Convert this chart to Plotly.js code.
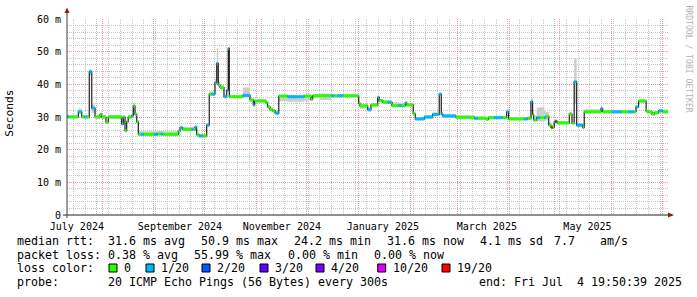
<!DOCTYPE html>
<html><head><meta charset="utf-8">
<script src="https://cdn.plot.ly/plotly-3.0.1.min.js"></script>
<style>html,body{margin:0;padding:0;background:#fff;}#chart{width:697px;height:297px;}</style>
</head><body><div id="chart"></div>
<script>
// ---- data ----
const segStart = ['2024-07-10 00:00','2024-07-12 00:00','2024-07-17 21:00','2024-07-19 22:00','2024-07-21 12:00','2024-07-23 00:00','2024-07-24 10:00','2024-07-25 21:00','2024-07-27 20:00','2024-07-30 19:00',
'2024-07-31 19:00','2024-08-03 09:00','2024-08-04 18:00','2024-08-12 18:00','2024-08-13 17:00','2024-08-14 17:00','2024-08-15 17:00','2024-08-16 16:00','2024-08-18 17:00','2024-08-19 16:00',
'2024-08-20 16:00','2024-08-21 17:00','2024-08-22 16:00','2024-08-24 06:00','2024-08-26 00:00','2024-09-01 04:00','2024-09-03 04:00','2024-09-05 00:00','2024-09-06 04:00','2024-09-15 12:00',
'2024-09-16 12:00','2024-09-18 03:00','2024-09-23 12:00','2024-09-24 12:00','2024-09-25 11:00','2024-09-26 11:00','2024-09-27 20:00','2024-09-30 00:00','2024-10-02 10:00','2024-10-03 23:00',
'2024-10-05 12:00','2024-10-07 09:00','2024-10-08 10:00','2024-10-09 08:00','2024-10-10 09:00','2024-10-12 18:00','2024-10-14 09:00','2024-10-15 07:00','2024-10-15 22:00','2024-10-24 00:00',
'2024-10-28 06:00','2024-10-30 05:00','2024-10-31 01:00','2024-11-06 19:00','2024-11-07 19:00','2024-11-09 04:00','2024-11-10 19:00','2024-11-12 07:00','2024-11-14 10:00','2024-11-19 17:00',
'2024-11-29 15:00','2024-12-03 15:00','2024-12-04 15:00','2024-12-09 00:00','2024-12-15 13:00','2024-12-17 12:00','2024-12-19 13:00','2024-12-22 21:00','2025-01-01 02:00','2025-01-01 20:00',
'2025-01-06 10:00','2025-01-08 10:00','2025-01-12 10:00','2025-01-13 08:00','2025-01-15 10:00','2025-01-18 10:00','2025-01-20 07:00','2025-01-20 22:00','2025-01-25 00:00','2025-01-26 12:00',
'2025-01-28 21:00','2025-01-29 17:00','2025-02-02 14:00','2025-02-03 20:00','2025-02-09 05:00','2025-02-14 05:00','2025-02-18 03:00','2025-02-19 08:00','2025-02-20 05:00','2025-02-28 02:00',
'2025-03-11 00:00','2025-03-13 00:00','2025-03-18 00:00','2025-03-19 12:00','2025-03-22 22:00','2025-03-27 22:00','2025-03-30 08:00','2025-03-31 12:00','2025-04-09 19:00','2025-04-11 19:00',
'2025-04-13 19:00','2025-04-14 19:00','2025-04-15 09:00','2025-04-17 05:00','2025-04-19 00:00','2025-04-21 19:00','2025-04-22 19:00','2025-04-24 10:00','2025-04-25 17:00','2025-04-26 00:00',
'2025-04-26 18:00','2025-04-27 17:00','2025-04-28 07:00','2025-04-29 03:00','2025-04-29 17:00','2025-05-06 16:00','2025-05-08 07:00','2025-05-09 14:00','2025-05-11 02:00','2025-05-14 14:00',
'2025-05-15 14:00','2025-05-25 14:00','2025-05-26 14:00','2025-06-01 00:00','2025-06-07 00:00','2025-06-11 00:00','2025-06-14 00:00','2025-06-15 10:00','2025-06-17 00:00','2025-06-21 12:00',
'2025-06-22 00:00','2025-06-25 00:00','2025-06-26 10:00','2025-06-29 00:00','2025-07-01 08:00'];
const medianRtt = [30.1,30.0,31.6,30.0,30.0,30.0,43.9,32.7,30.0,30.8,
30.0,28.4,30.0,27.9,30.0,25.8,28.6,30.0,30.4,33.4,
30.8,28.5,24.7,24.7,24.7,24.7,24.8,24.8,24.7,25.6,
26.7,26.2,26.2,26.2,26.9,24.6,24.2,24.2,27.5,37.0,
37.0,40.5,46.4,39.8,39.0,36.2,38.2,51.0,36.2,36.6,
35.2,33.7,34.9,34.4,33.1,32.3,31.9,31.2,36.4,36.2,
36.4,35.4,36.5,36.5,36.5,36.5,36.5,36.5,34.2,33.4,
32.3,33.7,36.0,35.0,34.5,34.5,34.5,33.5,33.5,33.5,
34.3,33.7,31.0,29.4,30.0,30.8,37.0,30.9,30.3,29.9,
29.6,29.6,29.3,29.8,29.8,29.8,31.6,29.4,29.4,29.6,
34.7,30.8,29.1,29.8,29.8,29.8,30.2,27.5,26.8,26.8,
26.8,28.6,28.6,28.6,28.2,30.9,28.1,40.8,27.5,26.8,
31.6,32.6,31.6,31.6,31.6,31.6,31.6,33.1,34.9,31.9,
31.6,30.9,31.3,31.9,31.6];
const lossPings = [1,0,1,0,1,0,1,1,0,0,
0,0,0,1,0,0,0,0,1,0,
0,0,0,1,0,1,0,1,0,0,
1,0,1,0,1,0,1,0,1,0,
1,1,1,0,0,1,1,1,0,1,
0,1,0,0,0,0,0,1,0,1,
0,0,0,0,1,0,1,0,0,0,
1,0,1,0,0,1,0,0,1,0,
1,0,0,1,1,1,1,1,1,0,
1,0,0,0,1,0,1,0,1,0,
1,0,0,1,0,1,0,0,0,19,
0,0,4,0,0,0,0,1,1,0,
0,1,0,1,0,1,0,1,0,0,
0,0,0,1,0];
const smokeLow = [29.6,29.6,31.0,29.6,29.6,29.6,42.6,31.2,29.5,30.3,
29.5,27.9,29.5,27.4,29.5,25.3,28.1,29.5,29.9,32.6,
30.3,28.0,24.2,24.2,24.2,24.2,24.3,24.3,24.2,25.1,
26.2,25.8,25.8,25.8,26.4,24.1,23.7,23.7,27.0,36.4,
36.4,39.8,40.5,39.2,38.4,35.8,37.6,50.4,35.8,36.0,
34.8,33.2,34.4,34.0,32.6,31.8,31.4,30.7,34.8,34.7,
35.0,35.0,36.0,35.2,36.0,36.0,36.0,36.0,33.7,32.5,
31.5,33.0,35.4,34.5,34.0,34.0,34.0,33.0,33.0,33.0,
33.8,33.2,30.5,29.0,29.5,30.3,36.4,30.4,29.8,29.4,
29.2,29.2,28.9,29.3,29.3,29.3,31.0,29.0,29.0,29.1,
34.0,30.2,28.6,28.6,28.6,28.8,29.0,27.0,26.3,26.3,
26.3,28.1,28.1,28.1,27.7,30.4,27.6,34.0,27.0,26.3,
31.1,32.1,31.1,31.1,31.1,31.1,31.1,32.6,34.4,31.4,
31.1,30.4,30.8,31.4,31.1];
const smokeHigh = [30.8,30.6,32.6,30.6,30.6,30.6,44.6,33.8,30.6,31.3,
30.6,29.0,30.6,28.5,30.6,26.4,29.2,30.6,31.0,34.4,
31.4,29.1,25.6,25.6,25.6,25.6,25.7,25.7,25.6,26.2,
27.3,27.0,27.0,27.0,27.5,25.2,24.8,24.8,28.2,37.8,
37.8,41.6,51.0,40.8,39.8,37.0,39.0,51.2,36.8,39.0,
35.8,34.3,35.5,35.0,33.7,32.9,32.5,31.8,36.9,36.8,
36.9,36.0,37.0,37.2,37.0,37.0,37.0,37.0,34.8,34.0,
33.0,34.3,36.6,35.6,35.2,35.2,35.2,34.6,34.2,34.2,
34.9,34.3,31.6,30.0,30.6,31.4,37.6,31.6,31.0,30.5,
30.2,30.2,29.9,30.4,30.4,30.4,32.6,30.0,30.0,30.2,
35.8,32.0,30.5,32.8,33.0,32.0,31.5,28.5,27.5,27.5,
27.5,29.3,29.3,29.3,28.8,31.5,28.7,47.9,28.1,27.4,
32.4,33.2,32.2,32.2,32.2,32.2,32.2,33.7,35.5,32.5,
32.2,31.5,31.9,32.5,32.2];
const endTime = '2025-07-04 19:50:39';
const viewRange = ['2024-07-11 03:00', '2025-07-04 13:00'];
const monthStarts = ['2024-08-01','2024-09-01','2024-10-01','2024-11-01','2024-12-01','2025-01-01','2025-02-01','2025-03-01','2025-04-01','2025-05-01','2025-06-01','2025-07-01'];
const monthLabelAt = ['2024-07-17 00:00','2024-09-16 12:00','2024-11-16 06:00','2025-01-15 12:00','2025-03-18 12:00','2025-05-17 12:00'];
const monthLabels = ['July 2024','September 2024','November 2024','January 2025','March 2025','May 2025'];
const yTickVals = [0,10,20,30,40,50,60];
const yTickText = ['0','10 m','20 m','30 m','40 m','50 m','60 m'];
const lossLevels = [0,1,2,3,4,10,19];
const lossLabels = ['0','1/20','2/20','3/20','4/20','10/20','19/20'];
const lossColors = ['#26ff00','#00b8ff','#0059ff','#5e00ff','#7e00ff','#dd00ff','#ff0000'];

// ---- layout geometry (pixels) ----
const W = 697, H = 297, L = 67, R = 668, T = 19, B = 215;
const px = x => (x - L) / (R - L);
const py = y => (B - y) / (B - T);
const MONO = 'DejaVu Sans Mono';

// ---- traces ----
const stepX = segStart.concat([endTime]);
const traces = [];
traces.push({x: stepX, y: smokeLow.concat([smokeLow[smokeLow.length-1]]), mode:'lines', line:{shape:'hv', width:0, color:'rgba(0,0,0,0)'}, hoverinfo:'skip', showlegend:false});
traces.push({x: stepX, y: smokeHigh.concat([smokeHigh[smokeHigh.length-1]]), mode:'lines', line:{shape:'hv', width:0, color:'rgba(0,0,0,0)'}, fill:'tonexty', fillcolor:'#cdcdcd', hoverinfo:'skip', showlegend:false});
traces.push({x: stepX, y: medianRtt.concat([medianRtt[medianRtt.length-1]]), mode:'lines', line:{shape:'hv', width:1.2, color:'#202020'}, hoverinfo:'skip', showlegend:false});
function levelIndex(v){ let k = 0; for (let i = 0; i < lossLevels.length; i++) if (v >= lossLevels[i]) k = i; return k; }
lossLevels.forEach((lv, k) => {
  const xs = [], ys = [];
  for (let i = 0; i < segStart.length; i++) {
    if (levelIndex(lossPings[i]) !== k) continue;
    xs.push(segStart[i], stepX[i+1], null);
    ys.push(medianRtt[i], medianRtt[i], null);
  }
  if (xs.length) traces.push({x: xs, y: ys, mode:'lines', line:{width:3, color: lossColors[k]}, hoverinfo:'skip', showlegend:false, connectgaps:false});
});
traces.push({x: monthLabelAt, y: monthLabelAt.map(() => null), xaxis:'x2', yaxis:'y', mode:'markers', hoverinfo:'skip', showlegend:false});

// ---- shapes: axes with arrows, legend boxes ----
const shapes = [
  {type:'line', xref:'paper', yref:'paper', x0:px(63), x1:px(669), y0:0, y1:0, line:{color:'#202020', width:1}},
  {type:'path', xref:'paper', yref:'paper', path:`M ${px(668)} ${py(212.5)} L ${px(674)} ${py(215)} L ${px(668)} ${py(217.5)} Z`, fillcolor:'#8b1a1a', line:{width:0}},
  {type:'line', xref:'paper', yref:'paper', x0:0, x1:0, y0:py(218), y1:py(12), line:{color:'#404040', width:1}},
  {type:'path', xref:'paper', yref:'paper', path:`M ${px(64.5)} ${py(13)} L ${px(67)} ${py(7.5)} L ${px(69.5)} ${py(13)} Z`, fillcolor:'#8b1a1a', line:{width:0}}
];
const legendLabelX = [123,160,216,274,330,391.7,456];
const annotations = [];
lossLabels.forEach((lab, k) => {
  shapes.push({type:'rect', xref:'paper', yref:'paper', x0:px(legendLabelX[k]-14), x1:px(legendLabelX[k]-6), y0:py(272), y1:py(264), fillcolor:lossColors[k], line:{color:'#000', width:1}});
  annotations.push({text: lab, x: px(legendLabelX[k]), y: py(268.3)});
});
const rowY = [241, 255, 268.3, 282];
const legendText = [
  ['median rtt:', 16, 0], ['31.6 ms avg', 107.3, 0], ['50.9 ms max', 200, 0], ['24.2 ms min', 293.3, 0], ['31.6 ms now', 386, 0], ['4.1 ms sd', 479.3, 0], ['7.7', 553.3, 0], ['am/s', 599.3, 0],
  ['packet loss:', 16, 1], ['0.38 % avg', 107.3, 1], ['55.99 % max', 193.3, 1], ['0.00 % min', 287.3, 1], ['0.00 % now', 372.7, 1],
  ['loss color:', 16, 2],
  ['probe:', 16, 3], ['20 ICMP Echo Pings (56 Bytes) every 300s', 107, 3], ['end: Fri Jul  4 19:50:39 2025', 478.3, 3]
];
legendText.forEach(([t, x, r]) => annotations.push({text: t, x: px(x), y: py(rowY[r])}));
annotations.forEach(a => Object.assign(a, {xref:'paper', yref:'paper', xanchor:'left', yanchor:'middle', showarrow:false, borderpad:0, font:{family:MONO, size:11.63, color:'#000'}}));
annotations.push({text:'Seconds', xref:'paper', yref:'paper', x:px(10), y:py(113.7), xanchor:'center', yanchor:'middle', textangle:-90, showarrow:false, font:{family:MONO, size:11.2, color:'#000'}});
annotations.push({text:'RRDTOOL / TOBI OETIKER', xref:'paper', yref:'paper', x:px(688.5), y:py(59), xanchor:'center', yanchor:'middle', textangle:90, showarrow:false, font:{family:MONO, size:8.1, color:'#b4b4b4'}});

const layout = {
  width: W, height: H, margin:{l:L, r:W-R, t:T, b:H-B, pad:0},
  paper_bgcolor:'#ffffff', plot_bgcolor:'#ffffff', showlegend:false,
  xaxis:{type:'date', range:viewRange, tickmode:'array', tickvals:monthStarts, showticklabels:false, ticks:'',
         showgrid:true, gridcolor:'#e29a9a', gridwidth:1, griddash:'1px,1px', zeroline:false, showline:false, fixedrange:true,
         minor:{tick0:'2024-07-01', dtick:7*86400000, showgrid:true, gridcolor:'#c4c4c4', gridwidth:1, griddash:'1px,1px'}},
  xaxis2:{type:'date', overlaying:'x', anchor:'y', side:'bottom', range:viewRange, tickmode:'array', tickvals:monthLabelAt, ticktext:monthLabels,
          showgrid:false, zeroline:false, showline:false, ticks:'', ticklabelstandoff:4, tickfont:{family:MONO, size:10, color:'#000'}, fixedrange:true},
  yaxis:{range:[0,60], tickmode:'array', tickvals:yTickVals, ticktext:yTickText, ticks:'outside', ticklen:3, tickcolor:'rgba(0,0,0,0)',
         showgrid:true, gridcolor:'#e29a9a', gridwidth:1, griddash:'1px,1px', zeroline:false, showline:false, fixedrange:true,
         tickfont:{family:MONO, size:10, color:'#000'},
         minor:{dtick:2, showgrid:true, gridcolor:'#c4c4c4', gridwidth:1, griddash:'1px,1px'}},
  shapes: shapes, annotations: annotations
};
Plotly.newPlot('chart', traces, layout, {staticPlot:true, displayModeBar:false});
</script></body></html>
